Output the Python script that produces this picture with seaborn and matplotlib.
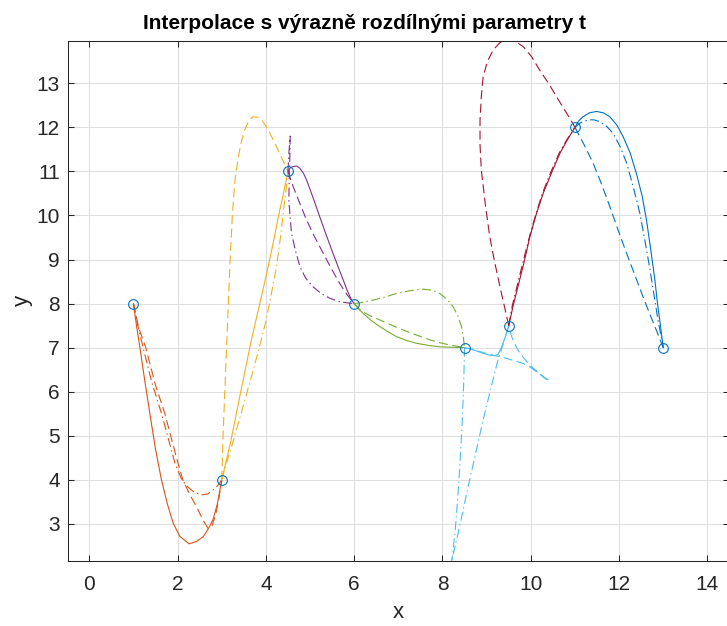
import matplotlib
matplotlib.use("Agg")
import matplotlib.pyplot as plt
import seaborn as sns

# ---------------- data ----------------
pts_x = [1, 3, 4.5, 6, 8.5, 9.5, 11, 13]
pts_y = [8, 4, 11, 8, 7, 7.5, 12, 7]

title_text = "Interpolace s výrazně rozdílnými parametry t"
xticks = [0, 2, 4, 6, 8, 10, 12, 14]
yticks = [3, 4, 5, 6, 7, 8, 9, 10, 11, 12, 13]

# segment 1 (1,8)-(3,4)
s1_solid_x = [1, 1.07, 1.144, 1.25, 1.37, 1.5, 1.635, 1.77, 1.90, 2.05, 2.26, 2.42, 2.58, 2.70, 2.80, 2.90, 3]
s1_solid_y = [8, 7.5, 7.02, 6.3, 5.52, 4.7, 4.0, 3.45, 3.02, 2.72, 2.55, 2.6, 2.71, 2.9, 3.09, 3.45, 4]
s1_dash_x = [1, 1.12, 1.28, 1.5, 1.71, 1.87, 2.01, 2.12, 2.28, 2.43, 2.57, 2.69, 2.78, 2.86, 2.93, 3]
s1_dash_y = [8, 7.45, 7.0, 6.15, 5.51, 4.9, 4.38, 4.0, 3.66, 3.39, 3.1, 2.9, 2.96, 3.2, 3.55, 4]
s1_dd_x = [1, 1.1, 1.22, 1.42, 1.635, 1.8, 1.94, 2.09, 2.2, 2.35, 2.54, 2.68, 2.80, 2.9, 3]
s1_dd_y = [8, 7.5, 7.0, 6.2, 5.51, 4.9, 4.38, 4.02, 3.87, 3.74, 3.66, 3.68, 3.77, 3.86, 4]

# segment 2 (3,4)-(4.5,11)
s2_solid_x = [3, 3.2, 3.4, 3.67, 3.85, 4.01, 4.15, 4.31, 4.42, 4.5]
s2_solid_y = [4, 4.85, 5.85, 7.17, 7.95, 8.65, 9.3, 10.1, 10.6, 11]
s2_dash_x = [3, 3.03, 3.07, 3.11, 3.15, 3.19, 3.24, 3.30, 3.37, 3.45, 3.53, 3.62, 3.71, 3.80, 3.90, 4.0, 4.09, 4.2, 4.31, 4.42, 4.5]
s2_dash_y = [4, 5.0, 6.0, 7.0, 8.0, 9.0, 10.0, 10.8, 11.3, 11.7, 11.97, 12.15, 12.24, 12.23, 12.17, 12.03, 11.87, 11.65, 11.41, 11.17, 11]
s2_dd_x = [3, 3.1, 3.25, 3.45, 3.66, 3.85, 4.0, 4.12, 4.24, 4.33, 4.41, 4.47, 4.5]
s2_dd_y = [4, 4.35, 4.85, 5.55, 6.3, 7.0, 7.6, 8.2, 8.84, 9.5, 10.2, 10.7, 11]

# segment 3 (4.5,11)-(6,8)
s3_solid_x = [4.5, 4.55, 4.62, 4.70, 4.77, 4.85, 4.92, 5.07, 5.22, 5.37, 5.52, 5.65, 5.75, 5.85, 5.94, 6]
s3_solid_y = [11, 11.08, 11.11, 11.12, 11.07, 10.96, 10.81, 10.4, 9.97, 9.55, 9.14, 8.8, 8.54, 8.28, 8.08, 8]
s3_dash_x = [4.5, 4.56, 4.62, 4.77, 4.92, 5.1, 5.30, 5.48, 5.67, 5.84, 6]
s3_dash_y = [11, 10.82, 10.65, 10.27, 9.9, 9.52, 9.14, 8.8, 8.46, 8.2, 8]
s3_dd_x = [4.5, 4.52, 4.55, 4.545, 4.53, 4.52, 4.55, 4.58, 4.67, 4.77, 4.9, 5.07, 5.25, 5.45, 5.68, 5.90, 6]
s3_dd_y = [11, 11.4, 11.8, 11.4, 10.9, 10.35, 9.95, 9.6, 9.2, 8.84, 8.58, 8.38, 8.23, 8.12, 8.04, 8.01, 8]

# segment 4 (6,8)-(8.5,7)
s4_solid_x = [6, 6.1, 6.20, 6.38, 6.58, 6.77, 6.96, 7.2, 7.41, 7.7, 7.94, 8.2, 8.5]
s4_solid_y = [8, 7.88, 7.78, 7.62, 7.48, 7.36, 7.25, 7.16, 7.10, 7.05, 7.02, 7.01, 7]
s4_dash_x = [6, 6.15, 6.35, 6.58, 6.85, 7.11, 7.4, 7.71, 7.95, 8.17, 8.35, 8.5]
s4_dash_y = [8, 7.84, 7.73, 7.63, 7.51, 7.40, 7.29, 7.18, 7.11, 7.06, 7.03, 7]
s4_dd_x = [6, 6.2, 6.43, 6.7, 6.96, 7.25, 7.56, 7.78, 7.94, 8.1, 8.24, 8.35, 8.43, 8.47, 8.5]
s4_dd_y = [8, 8.03, 8.08, 8.15, 8.23, 8.29, 8.33, 8.3, 8.23, 8.1, 7.93, 7.72, 7.48, 7.25, 7]

# segment 5 (8.5,7)-(9.5,7.5)
s5_solid_x = [8.5, 8.7, 8.9, 9.07, 9.18, 9.26, 9.34, 9.40, 9.45, 9.5]
s5_solid_y = [7, 6.95, 6.88, 6.83, 6.82, 6.85, 7.02, 7.18, 7.33, 7.5]
s5_dash_x = [8.5, 8.7, 8.85, 9.1, 9.45, 9.83, 10.0, 10.2, 10.35, 10.43, 10.3, 10.13, 9.98, 9.83, 9.72, 9.62, 9.56, 9.5]
s5_dash_y = [7, 6.96, 6.91, 6.84, 6.76, 6.64, 6.55, 6.40, 6.29, 6.25, 6.33, 6.47, 6.6, 6.78, 6.93, 7.12, 7.27, 7.5]
s5_dd_x = [8.5, 8.48, 8.45, 8.41, 8.36, 8.3, 8.24, 8.2, 8.24, 8.4, 8.57, 8.75, 8.93, 9.1, 9.25, 9.38, 9.5]
s5_dd_y = [7, 6.2, 5.4, 4.6, 3.8, 3.0, 2.4, 2.1, 2.3, 3.0, 3.8, 4.6, 5.4, 6.1, 6.7, 7.1, 7.5]

# segment 6 (9.5,7.5)-(11,12)
s6_solid_x = [9.5, 9.6, 9.71, 9.85, 9.98, 10.13, 10.28, 10.47, 10.66, 10.83, 11]
s6_solid_y = [7.5, 7.95, 8.39, 8.95, 9.52, 10.05, 10.50, 10.97, 11.41, 11.72, 12]
s6_dash_x = [9.5, 9.40, 9.30, 9.18, 9.07, 8.97, 8.88, 8.85, 8.85, 8.88, 8.92, 9.02, 9.15, 9.3, 9.45, 9.65, 9.83, 10.02, 10.20, 10.4, 10.58, 10.75, 10.88, 11]
s6_dash_y = [7.5, 7.95, 8.39, 8.95, 9.52, 10.25, 11.03, 11.6, 12.17, 12.7, 13.15, 13.5, 13.76, 13.92, 13.98, 13.95, 13.83, 13.6, 13.30, 13.0, 12.70, 12.42, 12.21, 12]
s6_dd_x = [9.5, 9.58, 9.69, 9.83, 9.97, 10.12, 10.27, 10.46, 10.65, 10.83, 11]
s6_dd_y = [7.5, 7.95, 8.4, 8.97, 9.52, 10.05, 10.52, 11.0, 11.43, 11.74, 12]

# segment 7 (11,12)-(13,7)
s7_solid_x = [11, 11.08, 11.18, 11.33, 11.49, 11.64, 11.79, 11.95, 12.09, 12.25, 12.39, 12.52, 12.62, 12.72, 12.81, 12.87, 12.92, 13]
s7_solid_y = [12, 12.14, 12.24, 12.33, 12.36, 12.33, 12.24, 12.05, 11.79, 11.42, 10.96, 10.45, 9.90, 9.2, 8.54, 8.0, 7.63, 7]
s7_dash_x = [11, 11.2, 11.41, 11.6, 11.79, 11.98, 12.17, 12.36, 12.54, 12.7, 12.85, 13]
s7_dash_y = [12, 11.62, 11.19, 10.72, 10.20, 9.66, 9.14, 8.64, 8.16, 7.75, 7.38, 7]
s7_dd_x = [11, 11.12, 11.30, 11.43, 11.56, 11.72, 11.86, 12.02, 12.17, 12.32, 12.47, 12.59, 12.70, 12.79, 12.88, 13]
s7_dd_y = [12, 12.1, 12.17, 12.17, 12.13, 12.02, 11.87, 11.57, 11.19, 10.65, 10.05, 9.4, 8.77, 8.2, 7.63, 7]

seg_colors = ["#D95319", "#EDB120", "#7E2F8E", "#77AC30", "#4DBEEE", "#A2142F", "#0072BD"]
marker_color = "#0072BD"

curves = [
    (s1_solid_x, s1_solid_y, s1_dash_x, s1_dash_y, s1_dd_x, s1_dd_y),
    (s2_solid_x, s2_solid_y, s2_dash_x, s2_dash_y, s2_dd_x, s2_dd_y),
    (s3_solid_x, s3_solid_y, s3_dash_x, s3_dash_y, s3_dd_x, s3_dd_y),
    (s4_solid_x, s4_solid_y, s4_dash_x, s4_dash_y, s4_dd_x, s4_dd_y),
    (s5_solid_x, s5_solid_y, s5_dash_x, s5_dash_y, s5_dd_x, s5_dd_y),
    (s6_solid_x, s6_solid_y, s6_dash_x, s6_dash_y, s6_dd_x, s6_dd_y),
    (s7_solid_x, s7_solid_y, s7_dash_x, s7_dash_y, s7_dd_x, s7_dd_y),
]

# ---------------- style ----------------
sns.set_theme(style="ticks")
plt.rcParams["font.family"] = ["Liberation Sans", "DejaVu Sans"]
plt.rcParams["lines.scale_dashes"] = False

W, H = 727, 626
fig = plt.figure(figsize=(W / 100, H / 100), dpi=100)
ax_left, ax_right, ax_top, ax_bot = 68.3, 728.6, 40.5, 561.0
ax = fig.add_axes([ax_left / W, 1 - ax_bot / H, (ax_right - ax_left) / W, (ax_bot - ax_top) / H])

LW = 0.8
DASH = (0, (6.5, 3.2))
DASHDOT = (0, (6.5, 2.5, 1.0, 2.5))

for (sx, sy, dx, dy, ddx, ddy), col in zip(curves, seg_colors):
    sns.lineplot(x=sx, y=sy, sort=False, estimator=None, color=col, linewidth=LW,
                 linestyle="-", ax=ax, zorder=2)
    sns.lineplot(x=dx, y=dy, sort=False, estimator=None, color=col, linewidth=LW,
                 linestyle=DASH, ax=ax, zorder=2)
    sns.lineplot(x=ddx, y=ddy, sort=False, estimator=None, color=col, linewidth=LW,
                 linestyle=DASHDOT, ax=ax, zorder=2)

sns.lineplot(x=pts_x, y=pts_y, sort=False, estimator=None, color=marker_color,
             linestyle="none", marker="o", markersize=7, markerfacecolor="none",
             markeredgecolor=marker_color, markeredgewidth=0.8, ax=ax, zorder=3)

ax.set_xlim(-0.475, 14.48)
ax.set_ylim(2.16, 13.97)
ax.set_xticks(xticks)
ax.set_yticks(yticks)
ax.set_xticklabels([str(t) for t in xticks])
ax.set_yticklabels([str(t) for t in yticks])

ax.grid(True, color="#dedede", linewidth=0.75)
ax.set_axisbelow(True)
for sp in ax.spines.values():
    sp.set_visible(True)
    sp.set_color("#262626")
    sp.set_linewidth(0.75)

ax.tick_params(axis="both", which="both", direction="in", length=4.5, width=0.75,
               colors="#262626", labelsize=15, top=True, right=True)
ax.tick_params(axis="x", pad=10)
ax.tick_params(axis="y", pad=6)

ax.set_xlabel("x", fontsize=16, color="#262626", labelpad=6)
ax.set_ylabel("y", fontsize=16, color="#262626", labelpad=3)
ax.set_title(title_text, fontsize=15, fontweight="bold", color="black", pad=8, x=0.448)

fig.savefig("out.png", dpi=100)
